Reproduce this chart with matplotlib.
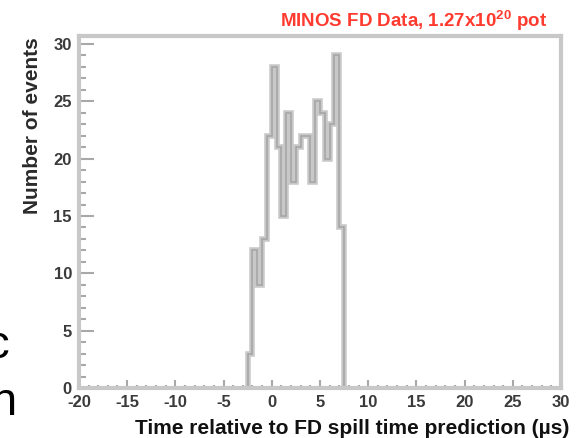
import numpy as np
import matplotlib
matplotlib.use("Agg")
import matplotlib.pyplot as plt
from matplotlib.ticker import MultipleLocator

# timing histogram of far detector events, 0.5 us bins
bin_edges = np.arange(-2.5, 7.51, 0.5)
counts = [3, 12, 9, 13, 22, 28, 21, 15, 24, 18,
          21, 22, 22, 18, 25, 24, 20, 23, 29, 14]

x_range = (-20, 30)
y_range = (0, 30.7)

plt.rcParams['font.family'] = ['Liberation Sans', 'DejaVu Sans']
plt.rcParams['axes.unicode_minus'] = False
plt.rcParams['mathtext.fontset'] = 'custom'
plt.rcParams['mathtext.rm'] = 'Liberation Sans:bold'
plt.rcParams['mathtext.default'] = 'rm'

fig = plt.figure(figsize=(5.76, 4.38), dpi=100)
ax = fig.add_axes([0.137, 0.114, 0.837, 0.804])

ax.stairs(counts, bin_edges, baseline=0, color='#c8c8c8', linewidth=4)
ax.stairs(counts, bin_edges, baseline=0, color='#a4a4a4', linewidth=1.1)

ax.set_xlim(*x_range)
ax.set_ylim(*y_range)

ax.xaxis.set_major_locator(MultipleLocator(5))
ax.xaxis.set_minor_locator(MultipleLocator(1))
ax.yaxis.set_major_locator(MultipleLocator(5))
ax.yaxis.set_minor_locator(MultipleLocator(1))

ax.tick_params(axis='both', which='both', direction='in', color='#a8a8a8',
               width=1.5, labelcolor='#3a3a3a')
ax.tick_params(axis='x', which='major', length=6, pad=5)
ax.tick_params(axis='x', which='minor', length=2.5)
ax.tick_params(axis='y', which='major', length=11, pad=5)
ax.tick_params(axis='y', which='minor', length=5)
ax.tick_params(labelsize=12)
for lab in ax.get_xticklabels() + ax.get_yticklabels():
    lab.set_fontweight('bold')

for side in ['left', 'right', 'top', 'bottom']:
    ax.spines[side].set_color('#c8c8c8')
    ax.spines[side].set_linewidth(3)

fig.text(33 / 576, 1 - 37 / 438, 'Number of events', rotation=90,
         ha='center', va='top', fontsize=15, fontweight='bold', color='#2a2a2a')
fig.text(569 / 576, 1 - 428 / 438,
         'Time relative to FD spill time prediction (\u00b5s)',
         ha='right', va='center', fontsize=15, fontweight='bold', color='#111111')
fig.text(547 / 576, 1 - 21 / 438, 'MINOS FD Data, 1.27x10$^{20}$ pot',
         ha='right', va='center', fontsize=13.5, fontweight='bold', color='#ff3b30')

# pieces of neighbouring slide text cut off at the left edge
fig.text(10 / 576, 1 - 358 / 438, 'c', ha='right', va='baseline',
         fontsize=34, color='black', family='Liberation Sans')
fig.text(17 / 576, 1 - 415 / 438, 'n', ha='right', va='baseline',
         fontsize=34, color='black', family='Liberation Sans')

fig.savefig('out.png', dpi=100)
